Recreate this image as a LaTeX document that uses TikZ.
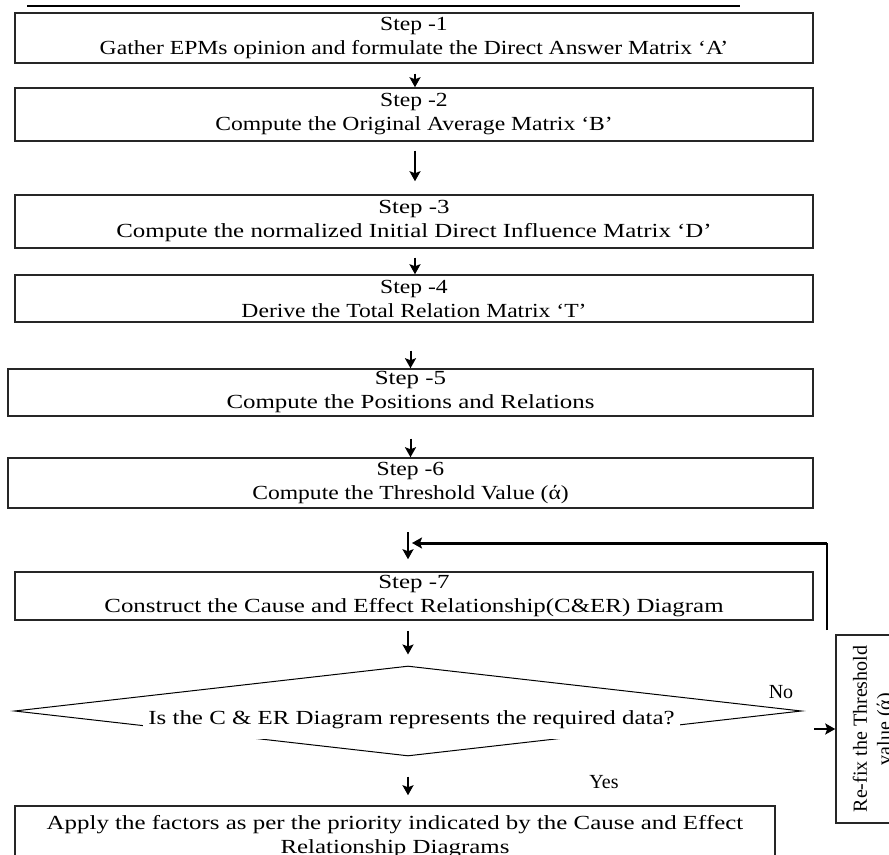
\documentclass[tikz,border=0pt]{standalone}
\usepackage{fontspec}
\setmainfont{Liberation Serif}[FakeStretch=1.18]
\newfontfamily\widefont{Liberation Serif}[FakeStretch=1.245,Ligatures=TeX]
\newfontfamily\rotfont{Liberation Serif}[Ligatures=TeX]
\usetikzlibrary{calc,shapes.geometric,arrows.meta}

\begin{document}
\begin{tikzpicture}[x=0.5pt, y=-0.5pt,
  stepbox/.style={draw=black!85, line width=0.75pt, align=center, inner sep=0pt},
  arr/.style={-{Stealth[length=5pt,width=5.5pt,inset=1pt]}, line width=1pt}]
\useasboundingbox (0,0) rectangle (889,855);
\clip (0,0) rectangle (889,855);
\draw[line width=0.6pt] (27,6) -- (740,6);
% the seven steps
\node[stepbox, minimum width=399pt, minimum height=25pt] (s1) at (414,38) {Step -1\\Gather EPMs opinion and formulate the Direct Answer Matrix ‘A’};
\node[stepbox, minimum width=399pt, minimum height=26.5pt] (s2) at (414,114.5) {Step -2\\Compute the Original Average Matrix ‘B’};
\node[stepbox, minimum width=399pt, minimum height=26.5pt, font=\widefont] (s3) at (414,221.5) {Step -3\\Compute the normalized Initial Direct Influence Matrix ‘D’};
\node[stepbox, minimum width=399pt, minimum height=23.5pt] (s4) at (414,298.5) {Step -4\\Derive the Total Relation Matrix ‘T’};
\node[stepbox, minimum width=402.5pt, minimum height=23.5pt, font=\widefont] (s5) at (410.5,392.5) {Step -5\\Compute the Positions and Relations};
\node[stepbox, minimum width=402.5pt, minimum height=25pt] (s6) at (410.5,483) {Step -6\\Compute the Threshold Value (ά)};
\node[stepbox, minimum width=399pt, minimum height=24pt, font=\widefont] (s7) at (414,596) {Step -7\\Construct the Cause and Effect Relationship(C\&ER) Diagram};
% decision
\node[diamond, draw, line width=0.5pt, inner sep=0pt, minimum width=393.5pt, minimum height=45pt] (q) at (408,711) {};
\node[fill=white, inner sep=0pt, minimum width=268.5pt, minimum height=19pt, font=\widefont] (qt) at (411.5,720) {Is the C \& ER Diagram represents the required data?};
\node[stepbox, minimum width=380pt, minimum height=31pt, font=\widefont] (fin) at (395,837) {Apply the factors as per the priority indicated by the Cause and Effect\\Relationship Diagrams};
\node[stepbox, rotate=90, minimum width=94pt, minimum height=38pt, font=\rotfont] (refix) at (874,729) {Re-fix the Threshold\\value (ά)};
\node[font=\rotfont] (no) at (781,692) {No};
\node[font=\rotfont] (yes) at (604,782) {Yes};
% arrows
\draw[arr, shorten <=5pt] ([xshift=0.5pt]s1.south) -- ([xshift=0.5pt]s2.north);
\draw[arr, shorten <=4.5pt, shorten >=6.5pt] ([xshift=0.5pt]s2.south) -- ([xshift=0.5pt]s3.north);
\draw[arr, shorten <=4.5pt] ([xshift=0.5pt]s3.south) -- ([xshift=0.5pt]s4.north);
\draw[arr, shorten <=14pt] (s4.south -| s5) -- (s5.north);
\draw[arr, shorten <=11pt] (s5) -- (s6);
\coordinate (join) at (412,543);
\coordinate (loop) at (827,630);
\draw[arr, shorten >=6pt] (q.north |- 0,532) -- (q.north |- s7.north);
\draw[line width=0.6pt] (loop) -- (loop |- join);
\draw[arr, line width=1.5pt] (loop |- join) -- (join);
\draw[arr, shorten <=5pt, shorten >=5.5pt] (s7.south -| q.north) -- (q.north);
\draw[arr, shorten <=10pt, shorten >=5pt] (q.south) -- (q.south |- fin.north);
\draw[arr, line width=1.1pt] ([xshift=-10.5pt]refix.north) -- (refix.north);
\end{tikzpicture}
\end{document}
